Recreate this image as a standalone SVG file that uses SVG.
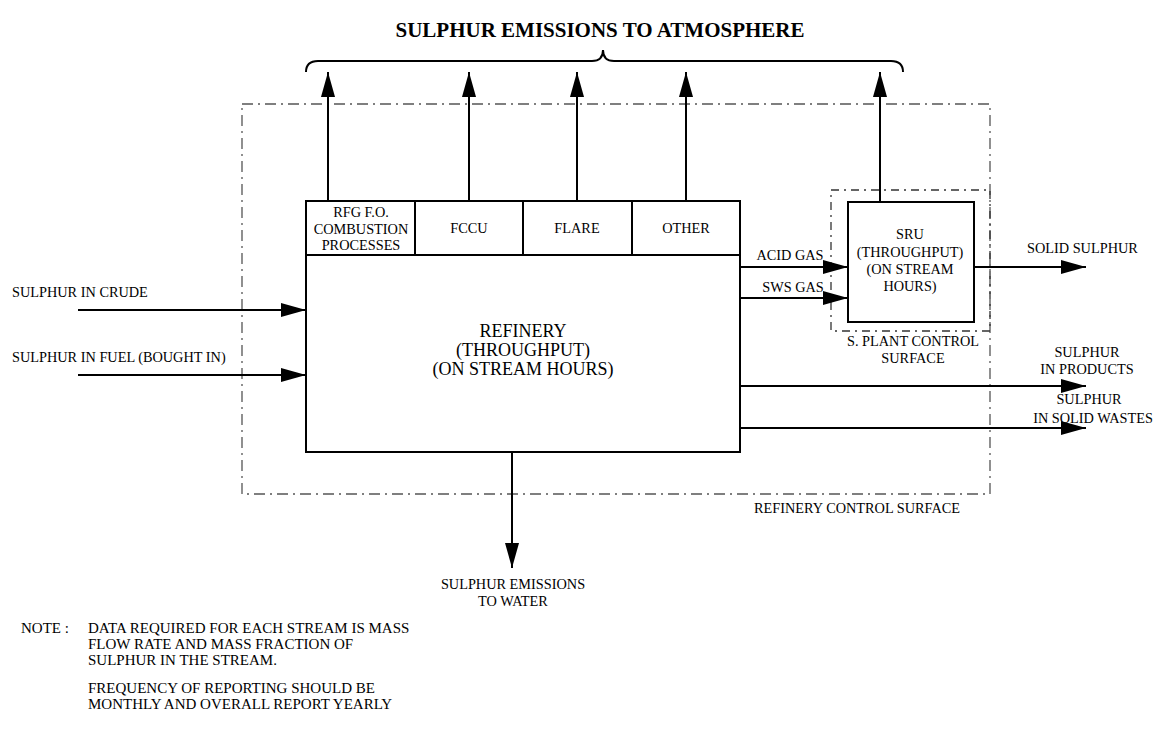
<svg xmlns="http://www.w3.org/2000/svg" width="1155" height="731" viewBox="0 0 1155 731">
<style>
text{font-family:"Liberation Serif","Times New Roman",serif;fill:#000;font-size:14.3px}
.c{text-anchor:middle}
.big{font-size:18px}
.title{font-size:21px;font-weight:bold}
.note{font-size:15px}
.box{fill:#fff;stroke:#000;stroke-width:2}
.ln{stroke:#000;stroke-width:2;fill:none}
.dd{stroke:#555;stroke-width:1.3;fill:none;stroke-dasharray:11 5 2 5}
.dash{stroke:#333;stroke-width:1.3;fill:none;stroke-dasharray:8 5 2 5}
</style>
<defs>
<marker id="ah" markerUnits="userSpaceOnUse" markerWidth="28" markerHeight="16" refX="25" refY="7" orient="auto">
<path d="M0,0 L25,7 L0,14 z" fill="#000"/>
</marker>
</defs>
<g id="title">
<text class="title c" x="600" y="37">SULPHUR EMISSIONS TO ATMOSPHERE</text>
<path class="ln" d="M306,72 Q306,61 318,61 L592,61 Q603,61 603,50 Q603,61 614,61 L891,61 Q903,61 903,72" stroke-width="1.6"/>
</g>
<g id="refinery-control-surface">
<rect class="dd" x="242" y="104" width="748" height="390"/>
<text x="754" y="513">REFINERY CONTROL SURFACE</text>
</g>
<g id="splant-control-surface">
<rect class="dash" x="831" y="190" width="159" height="141"/>
<text class="c" x="913" y="346">S. PLANT CONTROL</text>
<text class="c" x="913" y="363">SURFACE</text>
</g>
<g id="connectors">
<line class="ln" x1="328" y1="201" x2="328" y2="72" marker-end="url(#ah)"/>
<line class="ln" x1="469" y1="201" x2="469" y2="72" marker-end="url(#ah)"/>
<line class="ln" x1="577" y1="201" x2="577" y2="72" marker-end="url(#ah)"/>
<line class="ln" x1="686" y1="201" x2="686" y2="72" marker-end="url(#ah)"/>
<line class="ln" x1="880" y1="202" x2="880" y2="72" marker-end="url(#ah)"/>
<line class="ln" x1="78" y1="310" x2="306" y2="310" marker-end="url(#ah)"/>
<line class="ln" x1="78" y1="375" x2="306" y2="375" marker-end="url(#ah)"/>
<line class="ln" x1="740" y1="267" x2="848" y2="267" marker-end="url(#ah)"/>
<line class="ln" x1="740" y1="298" x2="848" y2="298" marker-end="url(#ah)"/>
<line class="ln" x1="974" y1="267" x2="1086" y2="267" marker-end="url(#ah)"/>
<line class="ln" x1="740" y1="386" x2="1086" y2="386" marker-end="url(#ah)"/>
<line class="ln" x1="740" y1="428" x2="1086" y2="428" marker-end="url(#ah)"/>
<line class="ln" x1="512" y1="452" x2="512" y2="568" marker-end="url(#ah)"/>
</g>
<g id="rfg">
<rect class="box" x="306" y="201" width="109" height="54"/>
<text class="c" x="361" y="217">RFG F.O.</text>
<text class="c" x="361" y="234">COMBUSTION</text>
<text class="c" x="361" y="250">PROCESSES</text>
</g>
<g id="fccu">
<rect class="box" x="415" y="201" width="108" height="54"/>
<text class="c" x="469" y="233">FCCU</text>
</g>
<g id="flare">
<rect class="box" x="523" y="201" width="109" height="54"/>
<text class="c" x="577" y="233">FLARE</text>
</g>
<g id="other">
<rect class="box" x="632" y="201" width="108" height="54"/>
<text class="c" x="686" y="233">OTHER</text>
</g>
<g id="refinery">
<rect class="box" x="306" y="255" width="434" height="197"/>
<text class="big c" x="523" y="337">REFINERY</text>
<text class="big c" x="523" y="356">(THROUGHPUT)</text>
<text class="big c" x="523" y="375">(ON STREAM HOURS)</text>
</g>
<g id="sru">
<rect class="box" x="848" y="202" width="126" height="120"/>
<text class="c" x="910" y="239">SRU</text>
<text class="c" x="910" y="257">(THROUGHPUT)</text>
<text class="c" x="910" y="274">(ON STREAM</text>
<text class="c" x="910" y="291">HOURS)</text>
</g>
<g id="labels">
<text x="12" y="297">SULPHUR IN CRUDE</text>
<text x="12" y="362">SULPHUR IN FUEL (BOUGHT IN)</text>
<text class="c" x="790" y="260">ACID GAS</text>
<text class="c" x="793" y="292">SWS GAS</text>
<text x="1027" y="253">SOLID SULPHUR</text>
<text class="c" x="1087" y="357">SULPHUR</text>
<text class="c" x="1087" y="374">IN PRODUCTS</text>
<text class="c" x="1089" y="404">SULPHUR</text>
<text class="c" x="1093" y="423">IN SOLID WASTES</text>
<text class="c" x="513" y="589">SULPHUR EMISSIONS</text>
<text class="c" x="513" y="606">TO WATER</text>
</g>
<g id="note">
<text class="note" x="21" y="633">NOTE :</text>
<text class="note" x="88" y="633">DATA REQUIRED FOR EACH STREAM IS MASS</text>
<text class="note" x="88" y="649">FLOW RATE AND MASS FRACTION OF</text>
<text class="note" x="88" y="665">SULPHUR IN THE STREAM.</text>
<text class="note" x="88" y="693">FREQUENCY OF REPORTING SHOULD BE</text>
<text class="note" x="88" y="709">MONTHLY AND OVERALL REPORT YEARLY</text>
</g>
</svg>
